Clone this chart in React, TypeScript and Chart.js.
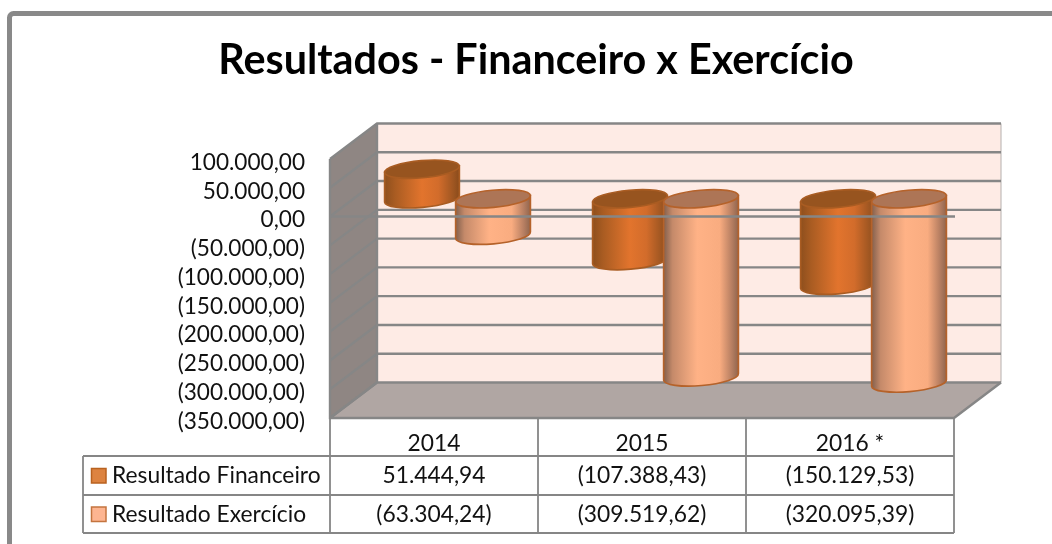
import React, { useEffect, useRef } from "react";
import { Chart, registerables } from "chart.js";

Chart.register(...registerables);

const TITLE = "Resultados - Financeiro x Exercício";
const CATEGORIES = ["2014", "2015", "2016 *"];
const SERIES_FIN = "Resultado Financeiro";
const SERIES_EXE = "Resultado Exercício";
const VALUES_FIN = [51444.94, -107388.43, -150129.53];
const VALUES_EXE = [-63304.24, -309519.62, -320095.39];

const FONT = "Lato, Carlito, sans-serif";
const GRID = "#868686";
const DEPTH_X = 47;
const DEPTH_Y = -35.5;
const TILT = (-5 * Math.PI) / 180;

function fmt(v: number): string {
  const [i, d] = Math.abs(v).toFixed(2).split(".");
  const s = i.replace(/\B(?=(\d{3})+(?!\d))/g, ".") + "," + d;
  return v < 0 ? `(${s})` : s;
}

const STYLE_FIN = {
  stops: [[0, "#8e4f1d"], [0.14, "#a95c22"], [0.5, "#e2742d"], [0.72, "#d26c2b"], [0.93, "#9c5521"], [1, "#8a4b1b"]],
  top: "#97541f",
  line: "#a95c22",
};
const STYLE_EXE = {
  stops: [[0, "#83604d"], [0.12, "#c58a6a"], [0.45, "#ffb286"], [0.75, "#f9ac80"], [0.92, "#b37c60"], [1, "#90654d"]],
  top: "#ad7556",
  line: "#b5622a",
};

function cylinder(ctx: CanvasRenderingContext2D, el: any, st: any) {
  const cx = el.x + DEPTH_X / 2;
  const rx = el.width / 2;
  const ry = 8.6;
  const top = Math.min(el.y, el.base) + DEPTH_Y / 2;
  const bottom = Math.max(el.y, el.base) + DEPTH_Y / 2;
  const ox = rx * Math.cos(TILT);
  const oy = rx * Math.sin(TILT);
  const g = ctx.createLinearGradient(cx - ox, 0, cx + ox, 0);
  st.stops.forEach(([p, c]: any) => g.addColorStop(p, c));
  ctx.save();
  ctx.lineWidth = 1.7;
  ctx.strokeStyle = st.line;
  ctx.fillStyle = g;
  ctx.beginPath();
  ctx.moveTo(cx - ox, top - oy);
  ctx.lineTo(cx - ox, bottom - oy);
  ctx.ellipse(cx, bottom, rx, ry, TILT, Math.PI, 0, true);
  ctx.lineTo(cx + ox, top + oy);
  ctx.closePath();
  ctx.fill();
  ctx.stroke();
  ctx.fillStyle = st.top;
  ctx.beginPath();
  ctx.ellipse(cx, top, rx, ry, TILT, 0, Math.PI * 2);
  ctx.fill();
  ctx.stroke();
  ctx.restore();
}

const scene = {
  id: "scene",
  beforeDraw(chart: any) {
    const { ctx, chartArea: a, scales } = chart;
    const y = scales.y;
    ctx.save();
    ctx.fillStyle = "#ffffff";
    ctx.fillRect(0, 0, chart.width, chart.height);
    ctx.strokeStyle = "#898989";
    ctx.lineWidth = 5;
    ctx.beginPath();
    ctx.roundRect(9.5, 13.5, 1070, 560, 4);
    ctx.stroke();
    const bx0 = a.left + DEPTH_X;
    const bx1 = a.right + DEPTH_X;
    const by0 = a.top + DEPTH_Y;
    const by1 = a.bottom + DEPTH_Y;
    ctx.fillStyle = "#feebe5";
    ctx.fillRect(bx0, by0, bx1 - bx0, by1 - by0);
    ctx.strokeStyle = "#b5b0ae";
    ctx.lineWidth = 1;
    ctx.beginPath();
    ctx.moveTo(bx1, by0);
    ctx.lineTo(bx1, by1);
    ctx.stroke();
    ctx.fillStyle = "#8f8683";
    ctx.beginPath();
    ctx.moveTo(a.left, a.top);
    ctx.lineTo(bx0, by0);
    ctx.lineTo(bx0, by1);
    ctx.lineTo(a.left, a.bottom);
    ctx.closePath();
    ctx.fill();
    ctx.fillStyle = "#b0a6a3";
    ctx.beginPath();
    ctx.moveTo(a.left, a.bottom);
    ctx.lineTo(bx0, by1);
    ctx.lineTo(bx1, by1);
    ctx.lineTo(a.right, a.bottom);
    ctx.closePath();
    ctx.fill();
    ctx.strokeStyle = GRID;
    ctx.lineWidth = 2.4;
    y.ticks.forEach((t: any) => {
      const p = y.getPixelForValue(t.value);
      ctx.beginPath();
      ctx.moveTo(a.left, p);
      ctx.lineTo(bx0, p + DEPTH_Y);
      ctx.lineTo(bx1, p + DEPTH_Y);
      ctx.stroke();
    });
    ctx.beginPath();
    ctx.moveTo(a.left, a.top);
    ctx.lineTo(a.left, a.bottom);
    ctx.lineTo(a.right, a.bottom);
    ctx.lineTo(bx1, by1);
    ctx.moveTo(bx0, by0);
    ctx.lineTo(bx0, by1);
    ctx.lineTo(a.left, a.bottom);
    ctx.stroke();
    ctx.restore();
  },
  beforeDatasetDraw() {
    return false;
  },
  afterDatasetsDraw(chart: any) {
    const { ctx, chartArea: a, scales } = chart;
    [STYLE_FIN, STYLE_EXE].forEach((st, i) => {
      chart.getDatasetMeta(i).data.forEach((el: any) => cylinder(ctx, el, st));
    });
    const p = scales.y.getPixelForValue(0);
    ctx.save();
    ctx.strokeStyle = GRID;
    ctx.lineWidth = 2.4;
    ctx.beginPath();
    ctx.moveTo(a.left, p);
    ctx.lineTo(a.right + 1, p);
    ctx.stroke();
    ctx.restore();
  },
  afterDraw(chart: any) {
    const { ctx, chartArea: a, scales } = chart;
    const x = scales.x;
    const w = (a.right - a.left) / CATEGORIES.length;
    const rows = [456, 495, 533];
    const tableLeft = 83;
    ctx.save();
    ctx.strokeStyle = GRID;
    ctx.lineWidth = 1.8;
    ctx.beginPath();
    rows.forEach((r) => {
      ctx.moveTo(tableLeft, r);
      ctx.lineTo(a.right, r);
    });
    ctx.moveTo(tableLeft, rows[0]);
    ctx.lineTo(tableLeft, rows[2]);
    for (let i = 0; i <= CATEGORIES.length; i++) {
      ctx.moveTo(a.left + i * w, a.bottom);
      ctx.lineTo(a.left + i * w, rows[2]);
    }
    ctx.stroke();
    ctx.font = `22.8px ${FONT}`;
    ctx.textBaseline = "middle";
    [
      { name: SERIES_FIN, vals: VALUES_FIN, fill: "#dd8340", line: "#b9621f" },
      { name: SERIES_EXE, vals: VALUES_EXE, fill: "#fdb591", line: "#c4743f" },
    ].forEach((s, r) => {
      const mid = (rows[r] + rows[r + 1]) / 2 + 0.5;
      ctx.fillStyle = s.fill;
      ctx.strokeStyle = s.line;
      ctx.lineWidth = 1.5;
      ctx.fillRect(91.5, mid - 7.5, 14.5, 14.5);
      ctx.strokeRect(91.5, mid - 7.5, 14.5, 14.5);
      ctx.fillStyle = "#111111";
      ctx.textAlign = "left";
      ctx.fillText(s.name, 112, mid);
      ctx.textAlign = "center";
      s.vals.forEach((v, i) => ctx.fillText(fmt(v), x.getPixelForTick(i), mid));
    });
    ctx.restore();
  },
};

export default function App() {
  const ref = useRef<HTMLCanvasElement>(null);
  useEffect(() => {
    const chart = new Chart(ref.current as HTMLCanvasElement, {
      type: "bar",
      data: {
        labels: CATEGORIES,
        datasets: [
          { label: SERIES_FIN, data: VALUES_FIN, backgroundColor: "#e2742d", borderColor: "#a95c22", categoryPercentage: 0.683, barPercentage: 1.056 },
          { label: SERIES_EXE, data: VALUES_EXE, backgroundColor: "#ffb286", borderColor: "#b5622a", categoryPercentage: 0.683, barPercentage: 1.056 },
        ],
      },
      options: {
        responsive: false,
        animation: false,
        events: [],
        layout: { padding: { left: 118, right: 98, top: 0, bottom: 0 } },
        plugins: {
          legend: { display: false },
          tooltip: { enabled: false },
          title: {
            display: true,
            text: TITLE,
            align: "center",
            color: "#000000",
            font: { family: FONT, size: 41.3, weight: "bold", lineHeight: 1.2 },
            padding: { top: 36, bottom: 73.44 },
          },
        },
        scales: {
          x: {
            grid: { display: false, drawTicks: false },
            border: { display: false },
            ticks: { color: "#111111", font: { family: FONT, size: 22.8 }, padding: 12, maxRotation: 0 },
            afterFit: (s: any) => { s.height = 126; },
          },
          y: {
            min: -350000,
            max: 100000,
            grid: { display: false, drawTicks: false },
            border: { display: false },
            afterFit: (s: any) => { s.width = 212; },
            ticks: {
              stepSize: 50000,
              autoSkip: false,
              color: "#111111",
              padding: 25,
              labelOffset: 3.5,
              font: { family: FONT, size: 22.6 },
              callback: (v: any) => fmt(Number(v)),
            },
          },
        },
      },
      plugins: [scene],
    } as any);
    return () => chart.destroy();
  }, []);
  return <canvas ref={ref} width={1052} height={544} style={{ position: "absolute", left: 0, top: 0, display: "block" }} />;
}
